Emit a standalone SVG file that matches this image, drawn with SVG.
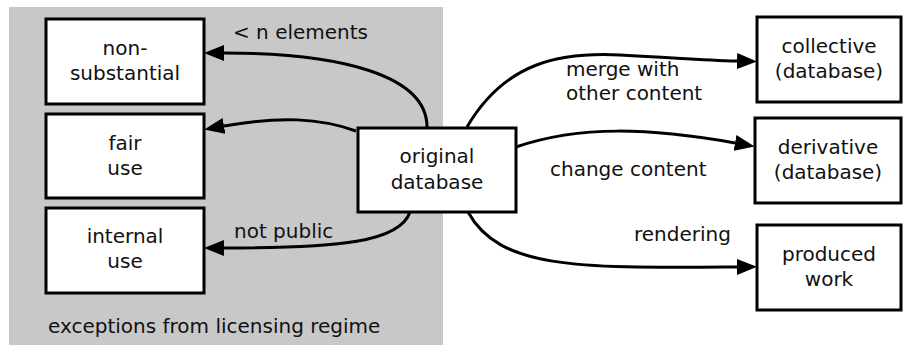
<svg xmlns="http://www.w3.org/2000/svg" width="906" height="345" viewBox="0 0 906 345">
<defs>
<marker id="ah" viewBox="0 0 20 16" refX="0" refY="8" markerWidth="20" markerHeight="16" markerUnits="userSpaceOnUse" orient="auto">
<path d="M0,0 L20,8 L0,16 z" fill="#000"/>
</marker>
</defs>
<style>
.box{fill:#fff;stroke:#000;stroke-width:3}
.t{font-family:"DejaVu Sans",sans-serif;font-size:20px;fill:#111}
.c{text-anchor:middle}
.e{fill:none;stroke:#000;stroke-width:3;marker-end:url(#ah)}
</style>
<rect x="0" y="0" width="906" height="345" fill="#fff"/>
<g id="region">
<rect x="9" y="7" width="434" height="338" fill="#c8c8c8"/>
<text class="t" x="48" y="333">exceptions from licensing regime</text>
</g>
<g id="connectors">
<path class="e" d="M427,127 C427,75 340,53 224,53"/>
<path class="e" d="M356,131 C320,118 280,116 224,126"/>
<path class="e" d="M410,212 C400,242 340,248 224,248"/>
<path class="e" d="M467,127 C505,62 560,52 620,55 S700,60 737,61"/>
<path class="e" d="M516,147 C580,125 650,128 735,143"/>
<path class="e" d="M468,212 C500,270 580,268 737,267"/>
<text class="t" x="233" y="39">&lt; n elements</text>
<text class="t" x="234" y="238">not public</text>
<text class="t" x="566" y="76">merge with</text>
<text class="t" x="566" y="100">other content</text>
<text class="t" x="550" y="176">change content</text>
<text class="t" x="634" y="241">rendering</text>
</g>
<g id="non-substantial">
<rect class="box" x="46" y="19" width="158" height="85"/>
<text class="t c" x="125" y="55">non-</text>
<text class="t c" x="125" y="80">substantial</text>
</g>
<g id="fair-use">
<rect class="box" x="46" y="114" width="158" height="84"/>
<text class="t c" x="125" y="150">fair</text>
<text class="t c" x="125" y="175">use</text>
</g>
<g id="internal-use">
<rect class="box" x="46" y="208" width="158" height="85"/>
<text class="t c" x="125" y="243">internal</text>
<text class="t c" x="125" y="268">use</text>
</g>
<g id="original-database">
<rect class="box" x="358" y="128" width="158" height="84"/>
<text class="t c" x="437" y="163">original</text>
<text class="t c" x="437" y="189">database</text>
</g>
<g id="collective">
<rect class="box" x="757" y="17" width="144" height="85"/>
<text class="t c" x="829" y="53">collective</text>
<text class="t c" x="829" y="78">(database)</text>
</g>
<g id="derivative">
<rect class="box" x="755" y="118" width="146" height="85"/>
<text class="t c" x="828" y="154">derivative</text>
<text class="t c" x="828" y="179">(database)</text>
</g>
<g id="produced-work">
<rect class="box" x="757" y="225" width="144" height="85"/>
<text class="t c" x="829" y="261">produced</text>
<text class="t c" x="829" y="286">work</text>
</g>
</svg>
